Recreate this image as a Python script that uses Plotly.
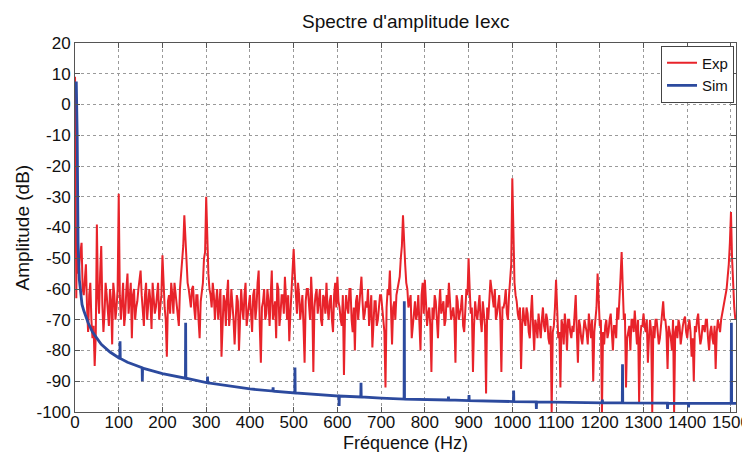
import plotly.graph_objects as go

# ---------------- data ----------------
# Experimental spectrum (Exp): fine points near 0 Hz, then values every 5 Hz
# (on the 5 Hz grid) plus values read between them (on the x.5 grid)
exp_freq_start = [0, 1, 2, 3, 4]
exp_amp_start = [9, 2, -40, -63, -45]

exp_amp = [
    # 5 .. 95
    -40, -50, -45, -62, -52, -74, -58, -76, -85, -39, -68, -46, -74, -58, -66, -60, -78, -62, -66,
    # 100 .. 195
    -29, -70, -58, -68, -55, -64, -76, -60, -66, -60, -54, -68, -62, -70, -60, -73, -62, -66, -58, -64,
    # 200 .. 295
    -49, -66, -82, -62, -58, -68, -62, -70, -60, -52, -36, -50, -60, -66, -59, -70, -62, -76, -60, -50,
    # 300 .. 395
    -30, -55, -62, -58, -70, -60, -66, -82, -62, -72, -57, -68, -64, -78, -62, -80, -60, -70, -58, -68,
    # 400 .. 495
    -62, -74, -60, -66, -54, -84, -64, -70, -60, -72, -54, -66, -76, -60, -68, -62, -56, -70, -77, -62,
    # 500 .. 595
    -47, -64, -58, -70, -62, -84, -60, -66, -56, -87, -62, -68, -60, -72, -63, -58, -70, -62, -74, -58,
    # 600 .. 695
    -56, -66, -72, -88, -62, -68, -60, -74, -80, -62, -66, -56, -70, -64, -60, -68, -79, -64, -72, -66,
    # 700 .. 795
    -62, -70, -92, -60, -54, -78, -64, -62, -58, -50, -36, -52, -60, -64, -76, -66, -70, -62, -80, -58,
    # 800 .. 895
    -57, -72, -66, -87, -70, -64, -76, -60, -66, -72, -62, -58, -70, -66, -84, -64, -68, -62, -74, -60,
    # 900 .. 995
    -50, -68, -87, -64, -70, -62, -74, -68, -94, -70, -57, -64, -60, -68, -62, -87, -66, -60, -70, -58,
    # 1000 .. 1095
    -24, -58, -64, -70, -86, -66, -72, -68, -76, -62, -80, -72, -68, -76, -66, -74, -70, -78, -100, -72,
    # 1100 .. 1195
    -57, -76, -92, -72, -68, -80, -70, -76, -74, -62, -84, -72, -78, -70, -74, -68, -76, -90, -70, -55,
    # 1200 .. 1295
    -72, -100, -78, -70, -74, -68, -80, -72, -66, -60, -48, -70, -92, -74, -80, -70, -67, -78, -97, -72,
    # 1300 .. 1395
    -68, -74, -84, -70, -100, -76, -70, -78, -72, -64, -70, -86, -74, -80, -100, -72, -70, -78, -72, -69,
    # 1400 .. 1495
    -76, -70, -82, -90, -74, -68, -78, -72, -74, -70, -80, -72, -78, -86, -70, -74, -68, -64, -60, -52,
    # 1500 .. 1510
    -35, -60, -70,
]

exp_amp_mid = [
    # 7.5 .. 97.5
    -55, -48, -60, -56, -66, -62, -70, -72, -75, -62, -55, -65, -68, -62, -72, -64, -58, -70, -60,
    # 102.5 .. 197.5
    -62, -64, -72, -60, -68, -58, -62, -70, -64, -56, -62, -72, -58, -66, -64, -58, -68, -60, -70, -62,
    # 202.5 .. 297.5
    -60, -70, -64, -68, -62, -58, -66, -72, -56, -46, -44, -58, -64, -60, -66, -62, -70, -64, -58, -48,
    # 302.5 .. 397.5
    -46, -60, -66, -62, -64, -70, -60, -68, -64, -62, -72, -60, -70, -66, -64, -70, -66, -62, -72, -64,
    # 402.5 .. 497.5
    -68, -62, -70, -58, -72, -66, -60, -68, -64, -62, -70, -64, -58, -72, -62, -68, -66, -62, -68, -56,
    # 502.5 .. 597.5
    -55, -68, -62, -66, -72, -64, -60, -70, -64, -66, -60, -64, -70, -62, -68, -66, -64, -70, -62, -66,
    # 602.5 .. 697.5
    -64, -70, -62, -68, -66, -60, -70, -66, -64, -70, -60, -64, -68, -66, -72, -62, -68, -64, -70, -62,
    # 702.5 .. 797.5
    -66, -74, -66, -62, -68, -66, -70, -60, -56, -46, -48, -58, -66, -62, -72, -64, -68, -70, -62, -68,
    # 802.5 .. 897.5
    -64, -68, -72, -66, -62, -70, -66, -68, -64, -70, -66, -64, -68, -70, -62, -70, -66, -72, -64, -62,
    # 902.5 .. 997.5
    -60, -66, -72, -68, -66, -70, -64, -72, -66, -62, -60, -66, -70, -64, -70, -66, -64, -68, -62, -52,
    # 1002.5 .. 1097.5
    -45, -62, -68, -66, -72, -70, -66, -74, -68, -72, -70, -76, -72, -70, -72, -68, -76, -72, -74, -66,
    # 1102.5 .. 1197.5
    -66, -74, -70, -78, -72, -70, -74, -72, -68, -74, -70, -76, -74, -72, -78, -72, -70, -74, -66, -62,
    # 1202.5 .. 1297.5
    -70, -74, -72, -76, -70, -74, -72, -76, -70, -56, -58, -68, -76, -72, -70, -74, -72, -70, -76, -72,
    # 1302.5 .. 1397.5
    -72, -70, -76, -74, -72, -70, -74, -76, -68, -70, -74, -72, -76, -70, -74, -76, -72, -74, -70, -74,
    # 1402.5 .. 1497.5
    -72, -74, -76, -72, -70, -74, -76, -72, -70, -76, -74, -76, -72, -74, -72, -70, -66, -62, -56, -45,
    # 1502.5 .. 1507.5
    -50, -66,
]

# Simulated spectrum (Sim): smooth floor with narrow harmonic lines
sim_freq = [0, 3, 5, 7, 10, 13, 16, 20, 30, 40, 50, 60, 80,
            102.5, 103, 103.5, 120, 153.5, 154, 154.5, 200,
            252.5, 253, 253.5, 302.5, 303, 303.5, 400,
            452.5, 453, 453.5, 502.5, 503, 503.5,
            603.5, 604, 604.5, 653.5, 654, 654.5, 700,
            752.5, 753, 753.5, 853.5, 854, 854.5, 900.5, 901, 901.5,
            1002.5, 1003, 1003.5, 1054.5, 1055, 1055.5,
            1205.5, 1206, 1206.5, 1251.5, 1252, 1252.5,
            1354.5, 1355, 1355.5, 1402.5, 1403, 1403.5,
            1500.5, 1501, 1501.5, 1512]
sim_amp = [7, 7, -10, -45, -57, -62, -65, -67, -71, -74, -76, -78, -80.5,
           -82.6, -77, -82.6, -83.8, -85.6, -90, -85.7, -87.5,
           -89, -71, -89, -90.5, -88.5, -90.5, -92.5,
           -93.2, -92, -93.2, -93.8, -85.5, -93.8,
           -94.8, -98, -94.8, -95.1, -90.5, -95.1, -95.5,
           -95.8, -64, -95.8, -96.1, -95, -96.1, -96.3, -94.5, -96.3,
           -96.6, -93, -96.6, -96.7, -99, -96.7,
           -97, -96, -97, -97, -84.5, -97,
           -97.1, -99, -97.1, -97.2, -98.5, -97.2,
           -97.2, -71, -97.2, -97.2]

x_ticks = list(range(0, 1501, 100))
y_ticks = list(range(-100, 21, 10))

# ---------------- assemble the Exp trace ----------------
pts = list(zip(exp_freq_start, exp_amp_start))
pts += [(5 + 5 * i, v) for i, v in enumerate(exp_amp)]
pts += [(7.5 + 5 * i, v) for i, v in enumerate(exp_amp_mid)]
pts.sort(key=lambda p: p[0])
exp_freq = [p[0] for p in pts]
exp_vals = [p[1] for p in pts]

# ---------------- figure ----------------
fig = go.Figure()
fig.add_trace(go.Scatter(x=exp_freq, y=exp_vals, mode="lines", name="Exp",
                         line=dict(color="#E8232A", width=2)))
fig.add_trace(go.Scatter(x=sim_freq, y=sim_amp, mode="lines", name="Sim",
                         line=dict(color="#2C4A9E", width=2.8)))

font = "Liberation Sans, Arial, sans-serif"
txt = "#111111"
# the page body has an 8px margin, so the figure is 8px smaller than the window
fig.update_layout(
    width=742, height=444,
    margin=dict(l=67, r=14, t=35, b=40),
    paper_bgcolor="white", plot_bgcolor="white",
    font=dict(family=font, size=17, color=txt),
    showlegend=True,
    legend=dict(x=0.997, y=0.993, xanchor="right", yanchor="top",
                bgcolor="white", bordercolor="#444", borderwidth=1,
                font=dict(size=15, color=txt), itemwidth=30,
                tracegroupgap=0),
    annotations=[
        dict(text="Spectre d'amplitude Iexc", xref="paper", yref="paper",
             x=0.5, y=1, yanchor="bottom", yshift=9, showarrow=False,
             font=dict(size=19, color=txt)),
        dict(text="Fréquence (Hz)", xref="paper", yref="paper",
             x=0.5, y=0, yanchor="middle", yshift=-31, showarrow=False,
             font=dict(size=18, color=txt)),
        dict(text="Amplitude (dB)", xref="paper", yref="paper",
             x=0, y=0.5, xanchor="center", xshift=-53, textangle=-90,
             showarrow=False, font=dict(size=19, color=txt)),
    ],
)
axis_common = dict(
    showgrid=True, gridcolor="#9a9a9a", griddash="dot", gridwidth=1,
    showline=True, linecolor="#555", linewidth=1, mirror="ticks",
    ticks="inside", ticklen=5, tickcolor="#555", zeroline=False,
    tickfont=dict(size=17, color=txt), automargin=False,
)
fig.update_xaxes(range=[0, 1511.5], tickmode="array", tickvals=x_ticks,
                 ticktext=[str(v) for v in x_ticks], ticklabelstandoff=-5,
                 **axis_common)
fig.update_yaxes(range=[-100, 20], tickmode="array", tickvals=y_ticks,
                 ticktext=[str(v) for v in y_ticks], **axis_common)

fig.write_html("out.html")
